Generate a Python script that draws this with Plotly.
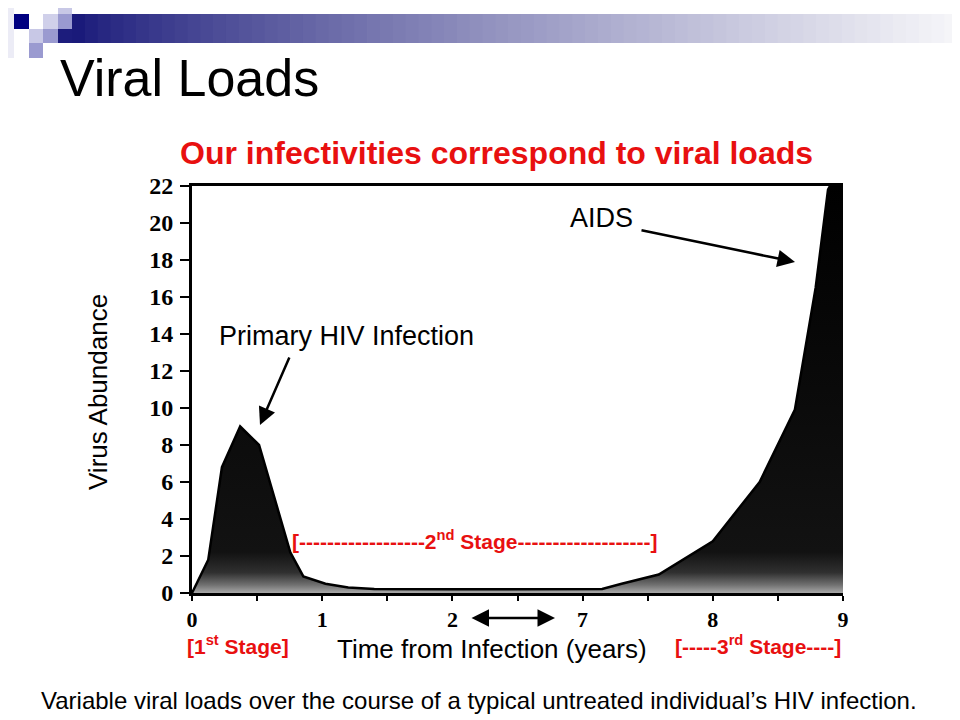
import plotly.graph_objects as go

# ---------------- data ----------------
# x positions on the (broken) time axis: each unit = half a tick spacing
time_pos = [0, 0.25, 0.46, 0.74, 1.03, 1.51, 1.71, 2.05, 2.4, 2.8, 4.0, 5.5, 6.3, 6.6, 7.17, 8.0, 8.72, 9.26, 9.58, 9.77, 9.8, 10.0]
virus_abundance = [0, 1.8, 6.8, 9.0, 8.0, 2.2, 0.9, 0.5, 0.3, 0.22, 0.2, 0.2, 0.22, 0.5, 1.0, 2.8, 6.0, 9.9, 16.5, 21.8, 22, 22]

x_tick_pos = [0, 1, 2, 3, 4, 5, 6, 7, 8, 9, 10]
x_tick_text = ["0", "", "1", "", "2", "", "7", "", "8", "", "9"]
y_tick_vals = [0, 2, 4, 6, 8, 10, 12, 14, 16, 18, 20, 22]
y_tick_text = [str(v) for v in y_tick_vals]

RED = "#e81010"
SANS = "Liberation Sans, Arial, sans-serif"
SERIF = "Liberation Serif, Times New Roman, serif"

# page offset of the plot div (browser body margin)
OFF = 8
# plot-area geometry in page pixels
L, T, W, H = 192, 186, 651, 407


def px(X):
    return (X - L) / W


def py(Y):
    return (T + H - Y) / H


fig = go.Figure()
fig.add_trace(go.Scatter(
    x=time_pos, y=virus_abundance, mode="lines",
    line=dict(color="black", width=2.5),
    fill="tozeroy",
    fillgradient=dict(type="vertical", start=0, stop=22,
                      colorscale=[[0, "#a8a8a8"], [0.02, "#707070"], [0.05, "#303030"],
                                  [0.1, "#121212"], [1, "#000000"]]),
    hoverinfo="skip",
))

shapes = []
# header gradient bar
N = 70
x0, x1 = 72, 970
for i in range(N):
    t = i / (N - 1)
    tt = t ** 0.8
    r = int(26 + (248 - 26) * tt)
    b = int(122 + (250 - 122) * tt)
    xa = x0 + (x1 - x0) * i / N
    xb = x0 + (x1 - x0) * (i + 1) / N + 0.8
    shapes.append(dict(type="rect", xref="paper", yref="paper",
                       x0=px(xa), x1=px(xb), y0=py(43), y1=py(14),
                       fillcolor=f"rgb({r},{r},{b})", line=dict(width=0), layer="above"))
# header squares
sq = [
    (0, 0, 14, 58, "#ececf6"),
    (58, 0, 72, 14, "#c8c8e6"),
    (14, 14, 29, 29, "#000080"),
    (43, 14, 58, 29, "#d0d0ea"),
    (58, 14, 72, 29, "#9a9ad0"),
    (58, 29, 72, 43, "#1c1c7c"),
    (29, 29, 43, 43, "#c8c8e6"),
    (43, 29, 58, 43, "#9a9ad0"),
    (29, 43, 43, 58, "#9a9ad0"),
]
for (a, b_, c, d, col) in sq:
    shapes.append(dict(type="rect", xref="paper", yref="paper",
                       x0=px(a), x1=px(c), y0=py(d), y1=py(b_),
                       fillcolor=col, line=dict(width=0), layer="above"))

ann = []


def text(X, Y, s, size, color="black", family=SANS, weight="normal", xanchor="center", angle=0):
    ann.append(dict(xref="paper", yref="paper", x=px(X), y=py(Y), text=s, showarrow=False,
                    xanchor=xanchor, yanchor="middle", textangle=angle,
                    font=dict(size=size, color=color, family=family, weight=weight)))


text(58, 78, "Viral Loads", 52, xanchor="left")
text(496, 153, "Our infectivities correspond to viral loads", 32, color=RED, weight="bold")
text(346, 336, "Primary HIV Infection", 27)
text(601, 218, "AIDS", 27)
text(98, 392, "Virus Abundance", 26, angle=-90)
text(492, 649, "Time from Infection (years)", 26)
text(474, 540, "[------------------2<sup>nd</sup> Stage-------------------]", 21, color=RED, weight="bold")
text(238, 645, "[1<sup>st</sup> Stage]", 21, color=RED, weight="bold")
text(758, 645, "[-----3<sup>rd</sup> Stage----]", 21, color=RED, weight="bold")
text(479, 700, "Variable viral loads over the course of a typical untreated individual\u2019s HIV infection.", 24)


def arrow(X, Y, AX, AY, side="end"):
    ann.append(dict(xref="paper", yref="paper", x=px(X), y=py(Y), ax=AX - X, ay=AY - Y,
                    text="", showarrow=True, arrowhead=2, arrowsize=1.4, arrowwidth=2.5,
                    arrowcolor="black", arrowside=side, startarrowhead=2, startarrowsize=1.4))


arrow(260, 425, 290, 356)
arrow(795, 262, 640, 230)
arrow(555, 618, 470, 618, side="end+start")

fig.update_layout(
    width=960, height=720,
    margin=dict(l=L - OFF, r=960 - (L - OFF) - W, t=T - OFF, b=720 - (T - OFF) - H),
    paper_bgcolor="white", plot_bgcolor="white", showlegend=False,
    shapes=shapes, annotations=ann,
    xaxis=dict(range=[0, 10], tickmode="array", tickvals=x_tick_pos, ticktext=x_tick_text,
               ticks="outside", ticklen=5, tickwidth=2, tickcolor="black",
               ticklabelstandoff=0,
               showline=True, linewidth=3, linecolor="black", mirror=True,
               showgrid=False, zeroline=False,
               tickfont=dict(family=SERIF, size=22, color="black", weight="bold")),
    yaxis=dict(range=[0, 22], tickmode="array", tickvals=y_tick_vals, ticktext=y_tick_text,
               ticks="outside", ticklen=9, tickwidth=2, tickcolor="black",
               ticklabelstandoff=2,
               showline=True, linewidth=3, linecolor="black",
               showgrid=False, zeroline=False,
               tickfont=dict(family=SERIF, size=24, color="black", weight="bold")),
)

fig.write_html("out.html")
